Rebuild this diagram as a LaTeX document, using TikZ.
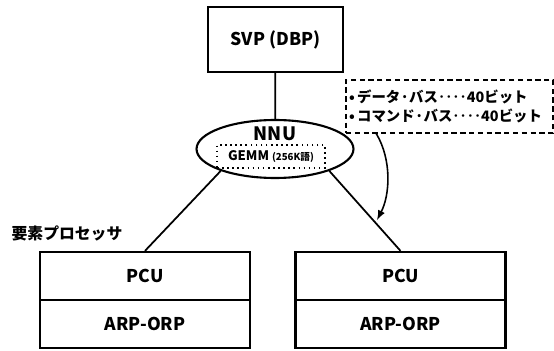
\documentclass[tikz,border=0pt]{standalone}
\usepackage{fontspec}
\setmainfont{Noto Sans CJK JP}
\usetikzlibrary{shapes,arrows,positioning,calc}

\begin{document}
\begin{tikzpicture}[x=0.02cm, y=-0.02cm, font=\bfseries]
            \useasboundingbox (0,0) rectangle (554,351);

            % Host
            \node[draw, line width=1pt, minimum width=2.7cm, minimum height=1.3cm, font=\bfseries\fontsize{10}{12}\selectfont] (svp) at (275.5,39.5) {SVP (DBP)};

            % Network unit
            \node[draw, ellipse, line width=1.2pt, minimum width=3.14cm, minimum height=1.16cm] (nnu) at (275,149) {};
            \node[font=\bfseries\fontsize{10.5}{12}\selectfont] (nnutitle) at (275,134) {NNU};
            \node[draw, dotted, line width=0.9pt, minimum width=2.16cm, minimum height=0.46cm, inner sep=0pt, font=\bfseries\fontsize{7.5}{9}\selectfont] (gemm) at (271,156.5) {GEMM {\fontsize{5.5}{6}\selectfont (256K語)}};

            \draw[line width=1pt] (svp) -- (nnu);

            % Bus widths
            \node[draw, dashed, line width=0.8pt, dash pattern=on 3pt off 2pt, minimum width=4.14cm, minimum height=1.06cm, inner xsep=0.06cm, text width=4.02cm, align=left, font=\bfseries\fontsize{8.2}{10.8}\selectfont] (bus) at (449.5,106.5) {•\,データ·バス‥‥40ビット\\•\,コマンド·バス‥‥40ビット};

            % Element processors
            \node[font=\bfseries\fontsize{9}{11}\selectfont] (eplabel) at (67,233) {要素プロセッサ};

            \node[draw, line width=1.3pt, minimum width=4.2cm, minimum height=0.96cm, font=\bfseries\fontsize{10}{12}\selectfont] (pcuL) at (145,276) {PCU};
            \node[draw, line width=1.3pt, minimum width=4.2cm, minimum height=0.96cm, font=\bfseries\fontsize{10}{12}\selectfont] (arpL) at (145,324) {ARP-ORP};

            \node[draw, line width=1.3pt, minimum width=4.2cm, minimum height=0.96cm, font=\bfseries\fontsize{10}{12}\selectfont] (pcuR) at (400.5,276) {PCU};
            \node[draw, line width=1.3pt, minimum width=4.2cm, minimum height=0.96cm, font=\bfseries\fontsize{10}{12}\selectfont] (arpR) at (400.5,324) {ARP-ORP};

            \draw[line width=1pt] (nnu.-158) -- (pcuL.north);
            \draw[line width=1pt] (nnu.-22) -- (pcuR.north);

            \coordinate (busfoot) at ($(bus.south west)+(31,0)$);
            \coordinate (arrowtip) at (377,220);
            \draw[-latex, line width=0.9pt] (busfoot) .. controls (392,160) and (390,195) .. (arrowtip);
        \end{tikzpicture}
\end{document}
